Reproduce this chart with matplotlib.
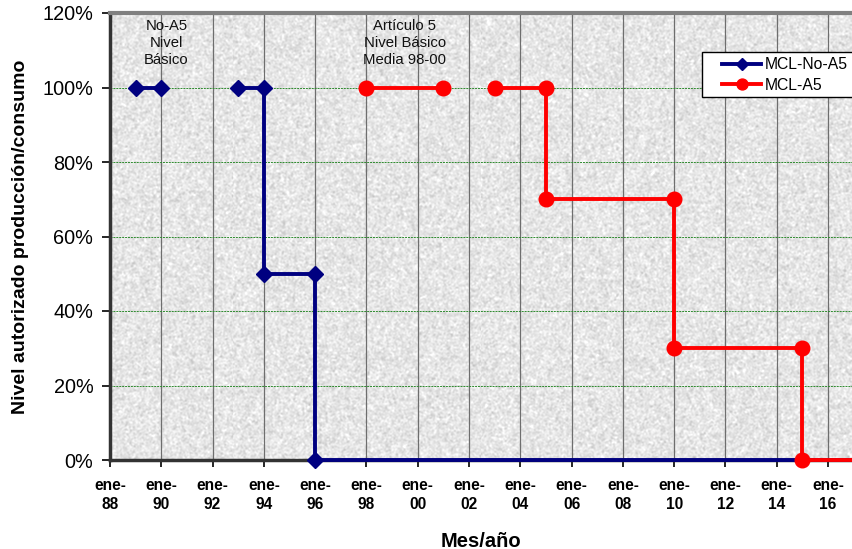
import numpy as np
import matplotlib.pyplot as plt
from matplotlib.patches import Rectangle
from matplotlib.ticker import FixedLocator, PercentFormatter

plt.rcParams['font.family'] = ['Liberation Sans', 'DejaVu Sans']

# datos (año decimal, % autorizado); nan = corte de la serie
x_no_a5 = [1989, 1990, np.nan, 1993, 1994, 1994, 1996, 1996, 2020]
y_no_a5 = [100, 100, np.nan, 100, 100, 50, 50, 0, 0]

x_a5 = [1998, 2001, np.nan, 2003, 2005, 2005, 2010, 2010, 2015, 2015, 2020]
y_a5 = [100, 100, np.nan, 100, 100, 70, 70, 30, 30, 0, 0]

tick_years = list(range(1988, 2017, 2))
tick_labels = ['ene-\n%02d' % (y % 100) for y in tick_years]
y_ticks = [0, 20, 40, 60, 80, 100, 120]

W, H = 852, 549
fig = plt.figure(figsize=(W / 100, H / 100), dpi=100)
ax = fig.add_axes([110 / W, 1 - 460 / H, 742 / W, 447 / H])

x0, x1 = 1988, 1988 + 742 / 51.29 * 2
ax.set_xlim(x0, x1)
ax.set_ylim(0, 120)

# fondo tipo "granito" de Excel (solo textura)
rng = np.random.default_rng(7)
tex = rng.normal(0, 1, (450, 745))
k = np.array([0.25, 0.5, 0.25])
tex = np.apply_along_axis(lambda r: np.convolve(r, k, mode='same'), 1, tex)
tex = np.apply_along_axis(lambda c: np.convolve(c, k, mode='same'), 0, tex)
tex = 0.9 + 0.035 * tex / tex.std()
ax.imshow(np.clip(tex, 0, 1), cmap='gray', vmin=0, vmax=1, extent=[x0, x1, 0, 120],
          aspect='auto', zorder=0, interpolation='nearest')

# rejilla
for t in tick_years[1:]:
    ax.axvline(t, color='#6e6e6e', lw=0.9, zorder=1)
for v in y_ticks[1:-1]:
    ax.axhline(v, color='#2e8b2e', lw=0.7, ls=(0, (2, 1)), zorder=1)

ax.plot(x_no_a5, y_no_a5, color='#000080', lw=2.8, marker='D', ms=8,
        mec='#000080', label='MCL-No-A5', zorder=4, clip_on=False)
ax.plot(x_a5, y_a5, color='#ff0000', lw=2.8, marker='o', ms=10.5,
        mec='#ff0000', label='MCL-A5', zorder=5, clip_on=False)

ax.text(1990.2, 118.5, 'No-A5\nNivel\nBásico', ha='center', va='top', fontsize=10.7,
        linespacing=1.3, color='#111111')
ax.text(1999.5, 118.5, 'Artículo 5\nNivel Básico\nMedia 98-00', ha='center', va='top',
        fontsize=10.7, linespacing=1.3, color='#111111')

ax.xaxis.set_major_locator(FixedLocator(tick_years))
ax.set_xticklabels(tick_labels, fontsize=11.2, fontweight='bold', linespacing=1.35)
ax.yaxis.set_major_locator(FixedLocator(y_ticks))
ax.yaxis.set_major_formatter(PercentFormatter(decimals=0))
ax.tick_params(axis='y', labelsize=14.3, length=6, width=1.2, direction='out', pad=6)
ax.tick_params(axis='x', length=5, width=1.2, direction='out', pad=8)

ax.set_xlabel('Mes/año', fontsize=14.5, fontweight='bold', labelpad=14)
ax.set_ylabel('Nivel autorizado producción/consumo', fontsize=14, fontweight='bold',
              labelpad=10)

ax.spines['right'].set_visible(False)
ax.spines['top'].set_color('#808080')
ax.spines['top'].set_linewidth(3)
ax.spines['left'].set_color('#333333')
ax.spines['left'].set_linewidth(2.5)
ax.spines['bottom'].set_color('#333333')
ax.spines['bottom'].set_linewidth(2.5)

# leyenda: marco propio que sale por la derecha, como en el original
fig.patches.append(Rectangle((702 / W, 1 - 97 / H), 170 / W, 45 / H,
                             transform=fig.transFigure, facecolor='white',
                             edgecolor='black', linewidth=1, zorder=6))
leg = fig.legend(loc='center left', bbox_to_anchor=(722 / W, 1 - 75 / H),
                 fontsize=11.3, frameon=False, borderpad=0,
                 handlelength=2.5, handletextpad=0.25, labelspacing=0.35,
                 borderaxespad=0, markerscale=0.75)
leg.set_zorder(7)

fig.savefig('out.png', dpi=100)
